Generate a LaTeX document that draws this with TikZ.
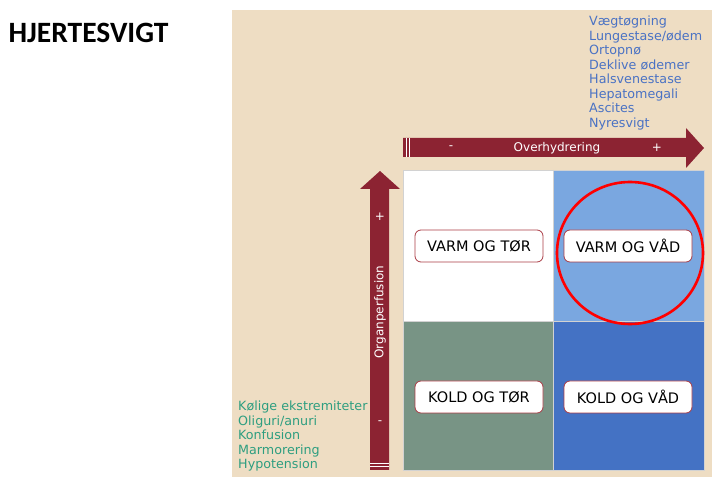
\documentclass[tikz,border=0pt]{standalone}
\usepackage{fontspec}
\setmainfont{DejaVu Sans}
\newfontfamily\titlefont{Carlito}
\usetikzlibrary{arrows.meta}

\definecolor{beige}{RGB}{238,221,195}
\definecolor{arrowred}{RGB}{140,35,50}
\definecolor{listblue}{RGB}{74,114,196}
\definecolor{listgreen}{RGB}{46,158,128}
\definecolor{quadwarmwet}{RGB}{122,167,224}
\definecolor{quadcoldwet}{RGB}{68,114,196}
\definecolor{quadcolddry}{RGB}{120,148,133}
\definecolor{boxred}{RGB}{170,60,70}

\begin{document}
\begin{tikzpicture}[x=1pt, y=-1pt,
  statebox/.style={draw=boxred, fill=white, rounded corners=6pt, line width=0.8pt,
    minimum width=128pt, minimum height=32pt, inner sep=0pt,
    font=\fontsize{14.5}{16}\selectfont},
  symlist/.style={anchor=north west, align=left, inner sep=0pt,
    font=\fontsize{12.7}{14.5}\selectfont},
  arrowtext/.style={text=white, font=\fontsize{12}{14}\selectfont}]
\useasboundingbox (0,0) rectangle (716,481);

% Title
\node[font=\titlefont\fontsize{29.5}{32}\selectfont\bfseries, anchor=west] (title) at (5,33) {HJERTESVIGT};

% Background panel
\fill[beige] (232,10) rectangle (712,477);

% Symptoms of overhydration (top right)
\node[symlist, text=listblue] (wetsigns) at (589,16) {Vægtøgning\\Lungestase/ødem\\Ortopnø\\Deklive ødemer\\Halsvenestase\\Hepatomegali\\Ascites\\Nyresvigt};

% Symptoms of low perfusion (bottom left)
\node[symlist, text=listgreen] (coldsigns) at (238,401) {Kølige ekstremiteter\\Oliguri/anuri\\Konfusion\\Marmorering\\Hypotension};

% Quadrants
\fill[white] (403,170) rectangle (553,321);
\fill[quadwarmwet] (553,170) rectangle (704,321);
\fill[quadcolddry] (403,321) rectangle (553,470);
\fill[quadcoldwet] (553,321) rectangle (704,470);
\draw[gray!35, line width=0.8pt] (403,170) rectangle (704,470);
\draw[gray!35, line width=0.6pt] (553,170) -- (553,470);
\draw[gray!35, line width=0.6pt] (403,321) -- (704,321);

% Overhydrering arrow
\fill[arrowred] (403,138) -- (686,138) -- (686,128) -- (704,148) -- (686,168) -- (686,157) -- (403,157) -- cycle;
\draw[white, line width=0.7pt] (406,138) -- (406,157);
\draw[white, line width=0.7pt] (409,138) -- (409,157);
\node[arrowtext] (hydr) at (557,148) {Overhydrering};
\node[arrowtext] (hydrminus) at (451,148) {-};
\node[arrowtext] (hydrplus) at (657,148) {+};

% Organperfusion arrow
\fill[arrowred] (370,470) -- (370,189) -- (360,189) -- (380,171) -- (400,189) -- (389,189) -- (389,470) -- cycle;
\draw[white, line width=0.7pt] (370,463) -- (389,463);
\draw[white, line width=0.7pt] (370,466.5) -- (389,466.5);
\node[arrowtext, rotate=90] (perf) at (380,312) {Organperfusion};
\node[arrowtext] (perfplus) at (380,217) {+};
\node[arrowtext] (perfminus) at (380,423) {-};

% State boxes
\node[statebox] (warmdry) at (479,246) {VARM OG TØR};
\node[statebox] (warmwet) at (628,246) {VARM OG VÅD};
\node[statebox] (colddry) at (479,397) {KOLD OG TØR};
\node[statebox] (coldwet) at (628,397) {KOLD OG VÅD};

% Highlight
\draw[red, line width=2.6pt] (630,253) ellipse (73pt and 71pt);

\end{tikzpicture}
\end{document}
